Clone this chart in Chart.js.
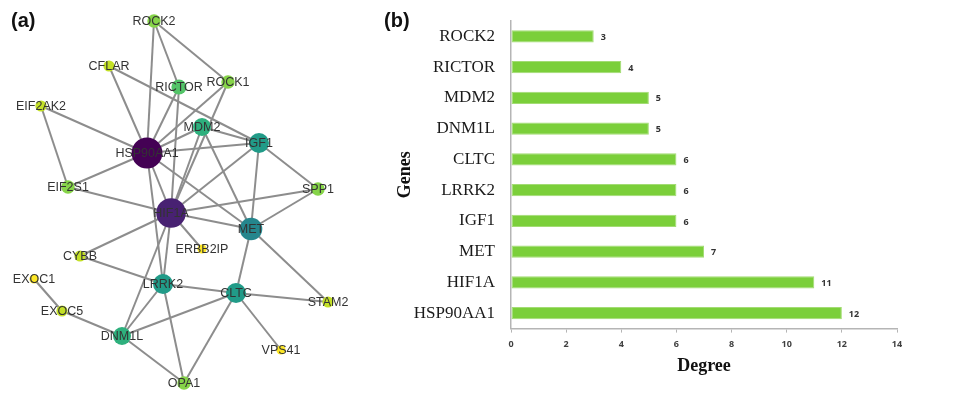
<!DOCTYPE html>
<html>
<head>
<meta charset="utf-8">
<script src="https://cdn.jsdelivr.net/npm/chart.js@4.4.1/dist/chart.umd.min.js"></script>
<style>
  html, body { margin: 0; padding: 0; background: #ffffff; }
  #wrap { position: relative; width: 967px; height: 393px; overflow: hidden; }
  #net { position: absolute; left: 0; top: 0; }
  #bars { position: absolute; left: 380px; top: 0; }
  .panel { position: absolute; top: 10px; font: bold 20px "Liberation Sans", Arial, sans-serif; line-height: 1; color: #111; }
</style>
</head>
<body>
<div id="wrap">
  <canvas id="net" width="380" height="393"></canvas>
  <canvas id="bars" width="587" height="393"></canvas>
  <div class="panel" style="left:11px">(a)</div>
  <div class="panel" style="left:384px">(b)</div>
</div>
<script>
// ---- Panel (a): protein interaction network ----
const nodeNames  = ['ROCK2','CFLAR','RICTOR','ROCK1','EIF2AK2','MDM2','HSP90AA1','IGF1','EIF2S1','SPP1',
                    'HIF1A','MET','ERBB2IP','CYBB','EXOC1','LRRK2','CLTC','STAM2','EXOC5','DNM1L','VPS41','OPA1'];
const nodeDegree = [3, 2, 4, 3, 2, 5, 12, 6, 3, 3,
                    11, 7, 1, 2, 1, 6, 6, 2, 2, 5, 1, 3];
// force-layout coordinates of each node
const layoutX = [154, 109, 179, 228, 41, 202, 147, 259, 68, 318,
                 171, 251, 202, 80, 34, 163, 236, 328, 62, 122, 281, 184];
const layoutY = [21, 66, 87, 82, 106, 127, 153, 143, 187, 189,
                 213, 229, 249, 256, 279, 284, 293, 302, 311, 336, 350, 383];
const edges = [
  ['ROCK2','HSP90AA1'], ['ROCK2','RICTOR'], ['ROCK2','ROCK1'],
  ['CFLAR','HSP90AA1'], ['CFLAR','IGF1'],
  ['RICTOR','HSP90AA1'], ['RICTOR','HIF1A'],
  ['ROCK1','HSP90AA1'], ['ROCK1','HIF1A'],
  ['EIF2AK2','HSP90AA1'], ['EIF2AK2','EIF2S1'],
  ['EIF2S1','HSP90AA1'], ['EIF2S1','HIF1A'],
  ['MDM2','HSP90AA1'], ['MDM2','IGF1'], ['MDM2','HIF1A'], ['MDM2','MET'],
  ['HSP90AA1','IGF1'], ['HSP90AA1','HIF1A'], ['HSP90AA1','MET'], ['HSP90AA1','LRRK2'],
  ['IGF1','HIF1A'], ['IGF1','MET'], ['IGF1','SPP1'],
  ['SPP1','HIF1A'], ['SPP1','MET'],
  ['HIF1A','MET'], ['HIF1A','ERBB2IP'], ['HIF1A','CYBB'], ['HIF1A','LRRK2'], ['HIF1A','DNM1L'],
  ['MET','CLTC'], ['MET','STAM2'],
  ['CYBB','LRRK2'],
  ['LRRK2','CLTC'], ['LRRK2','DNM1L'], ['LRRK2','OPA1'],
  ['CLTC','STAM2'], ['CLTC','VPS41'], ['CLTC','DNM1L'], ['CLTC','OPA1'],
  ['DNM1L','OPA1'], ['DNM1L','EXOC5'],
  ['EXOC5','EXOC1']
];

// ---- Panel (b): degree of the top hub genes ----
const genes  = ['ROCK2','RICTOR','MDM2','DNM1L','CLTC','LRRK2','IGF1','MET','HIF1A','HSP90AA1'];
const degree = [3, 4, 5, 5, 6, 6, 6, 7, 11, 12];
const degreeTicks = [0, 2, 4, 6, 8, 10, 12, 14];

// viridis colour ramp, reversed so that high degree is dark
const VIRIDIS = ['#440154','#482475','#414487','#355f8d','#2a788e','#21918c','#22a884','#44bf70','#7ad151','#bddf26','#fde725'];
function hexToRgb(h) { return [1,3,5].map(i => parseInt(h.substr(i, 2), 16)); }
function viridis(t) {
  t = Math.max(0, Math.min(1, t));
  const p = t * (VIRIDIS.length - 1), i = Math.min(Math.floor(p), VIRIDIS.length - 2), f = p - i;
  const a = hexToRgb(VIRIDIS[i]), b = hexToRgb(VIRIDIS[i + 1]);
  return 'rgb(' + a.map((v, k) => Math.round(v + (b[k] - v) * f)).join(',') + ')';
}
const maxDeg = Math.max(...nodeDegree), minDeg = Math.min(...nodeDegree);
const nodeColor = d => viridis((maxDeg - d) / (maxDeg - minDeg));
const RADIUS_BY_DEGREE = {1: 4.6, 2: 5.6, 3: 6.7, 4: 7.6, 5: 9, 6: 10, 7: 11.3, 11: 14.8, 12: 15.4};
const nodeRadius = d => RADIUS_BY_DEGREE[d] || (4 + d);

const idx = name => nodeNames.indexOf(name);
const edgeSets = edges.map(([a, b]) => ({
  type: 'line',
  data: [{x: layoutX[idx(a)], y: layoutY[idx(a)]}, {x: layoutX[idx(b)], y: layoutY[idx(b)]}],
  borderColor: '#8d8d8d',
  borderWidth: 2,
  pointRadius: 0,
  fill: false,
  order: 2
}));

const nodeLabels = {
  id: 'nodeLabels',
  afterDatasetsDraw(chart) {
    const {ctx, scales: {x, y}} = chart;
    ctx.save();
    ctx.font = '12.5px "Liberation Sans", Arial, sans-serif';
    ctx.fillStyle = '#333333';
    ctx.textAlign = 'center';
    ctx.textBaseline = 'middle';
    nodeNames.forEach((n, i) => ctx.fillText(n, x.getPixelForValue(layoutX[i]), y.getPixelForValue(layoutY[i]) + 1));
    ctx.restore();
  }
};

new Chart(document.getElementById('net'), {
  type: 'scatter',
  data: {
    datasets: [
      ...edgeSets,
      {
        type: 'scatter',
        data: nodeNames.map((n, i) => ({x: layoutX[i], y: layoutY[i]})),
        backgroundColor: nodeDegree.map(nodeColor),
        borderWidth: 0,
        pointRadius: nodeDegree.map(nodeRadius),
        pointHoverRadius: nodeDegree.map(nodeRadius),
        clip: false,
        order: 1
      }
    ]
  },
  options: {
    responsive: false,
    animation: false,
    events: [],
    layout: {padding: 0, autoPadding: false},
    plugins: {legend: {display: false}, tooltip: {enabled: false}},
    scales: {
      x: {type: 'linear', min: 0, max: 380, display: false},
      y: {type: 'linear', min: 0, max: 393, reverse: true, display: false}
    }
  },
  plugins: [nodeLabels]
});

// value labels at the end of each bar
const barValues = {
  id: 'barValues',
  afterDatasetsDraw(chart) {
    const {ctx} = chart;
    const meta = chart.getDatasetMeta(0);
    ctx.save();
    ctx.font = 'bold 9px "Open Sans", "Liberation Sans", sans-serif';
    ctx.fillStyle = '#333333';
    ctx.textAlign = 'left';
    ctx.textBaseline = 'middle';
    meta.data.forEach((bar, i) => ctx.fillText(String(degree[i]), bar.x + 7, bar.y + 1));
    ctx.restore();
  }
};

new Chart(document.getElementById('bars'), {
  type: 'bar',
  data: {
    labels: genes,
    datasets: [{
      data: degree,
      backgroundColor: '#7bcf3a',
      borderColor: '#a3dc74',
      borderWidth: 1,
      borderSkipped: false,
      barPercentage: 0.4,
      categoryPercentage: 1
    }]
  },
  options: {
    indexAxis: 'y',
    responsive: false,
    animation: false,
    events: [],
    layout: {padding: {left: 8, right: 70, top: 21, bottom: 16}},
    plugins: {legend: {display: false}, tooltip: {enabled: false}},
    scales: {
      x: {
        min: 0, max: 14,
        afterBuildTicks(scale) { scale.ticks = degreeTicks.map(v => ({value: v})); },
        grid: {display: true, drawOnChartArea: false, drawTicks: true, tickLength: 4, color: '#b5b5b5', lineWidth: 1},
        border: {display: true, color: '#b5b5b5', width: 1.5},
        ticks: {
          padding: 6,
          color: '#404040',
          font: {family: '"Open Sans", "Liberation Sans", sans-serif', size: 9, weight: 'bold'}
        },
        title: {
          display: true, text: 'Degree', color: '#111111',
          padding: {top: 0, bottom: 0},
          font: {family: '"Liberation Serif", "Times New Roman", serif', size: 18, weight: 'bold'}
        }
      },
      y: {
        afterFit(scale) { scale.width = 123; scale.paddingTop = 0; scale.paddingBottom = 0; },
        grid: {display: true, drawOnChartArea: false, drawTicks: false},
        border: {display: true, color: '#b5b5b5', width: 1.5},
        ticks: {
          padding: 16,
          color: '#1a1a1a',
          font: {family: '"Liberation Serif", "Times New Roman", serif', size: 17}
        },
        title: {
          display: true, text: 'Genes', color: '#111111',
          padding: {top: 7, bottom: 0},
          font: {family: '"Liberation Serif", "Times New Roman", serif', size: 18, weight: 'bold'}
        }
      }
    }
  },
  plugins: [barValues]
});
</script>
</body>
</html>
